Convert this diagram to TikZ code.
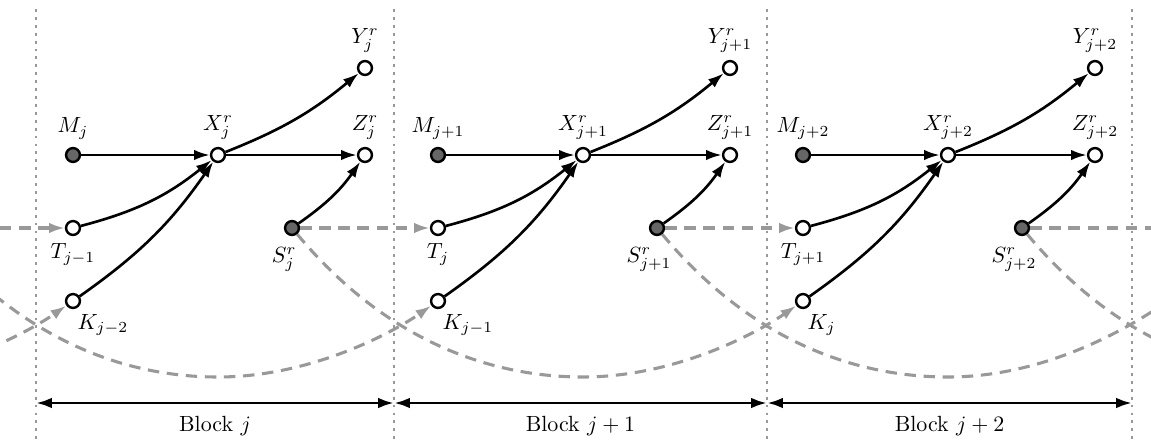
\documentclass[tikz,border=0pt]{standalone}
\usetikzlibrary{arrows.meta}
\begin{document}
\begin{tikzpicture}[x=0.455pt,y=-0.455pt,
  vtx/.style={circle, draw=black, line width=1.1pt, minimum size=6.3pt, inner sep=0pt},
  hid/.style={vtx, fill=white},
  obs/.style={vtx, fill=black!60},
  edge/.style={-{Latex[length=7.2pt,width=4.8pt]}, line width=1.2pt},
  fb/.style={-{Latex[length=7.2pt,width=4.8pt]}, line width=1.4pt, draw=black!40, dash pattern=on 5.2pt off 3.5pt},
  sep/.style={draw=black!40, line width=1.3pt, dash pattern=on 1.3pt off 2.3pt},
  span/.style={{Latex[length=7.2pt,width=4.8pt]}-{Latex[length=7.2pt,width=4.8pt]}, line width=1.3pt},
  klbl/.style={xshift=-4pt},
  slbl/.style={xshift=-3.6pt, yshift=-1.6pt},
]
\useasboundingbox (0,0) rectangle (1151,439);

% block separators
\foreach \x in {36,394,767,1132}{
  \draw[sep] (\x,9) -- (\x,439);
}

% nodes
\foreach \b/\c/\t/\k in {0/j/j-1/j-2, 1/j+1/j/j-1, 2/j+2/j+1/j}{
  \pgfmathsetmacro\o{365*\b}
  \node[obs, label=above:{$M_{\c}$}] (M\b) at (73+\o,155) {};
  \node[hid, label=above:{$X^r_{\c}$}] (X\b) at (218+\o,155) {};
  \node[hid, label=above:{$Y^r_{\c}$}] (Y\b) at (365+\o,68) {};
  \node[hid, label=above:{$Z^r_{\c}$}] (Z\b) at (365+\o,155) {};
  \node[hid, label=below:{$T_{\t}$}] (T\b) at (73+\o,228) {};
  \node[hid, label={[klbl]below right:{$K_{\k}$}}] (K\b) at (73+\o,301) {};
  \node[obs, label={[slbl]below:{$S^r_{\c}$}}] (S\b) at (292+\o,228) {};
}

% edges within blocks
\foreach \b in {0,1,2}{
  \draw[edge] (M\b) -- (X\b);
  \draw[edge] (X\b) -- (Z\b);
  \draw[edge] (X\b) to[bend right=9] (Y\b);
  \draw[edge] (T\b) to[bend right=12] (X\b);
  \draw[edge] (K\b) to[bend right=10] (X\b);
  \draw[edge] (S\b) to[bend right=10] (Z\b);
}

% feedback (dashed) connectors
\coordinate (Lin) at (0,228);
\coordinate (Rout) at (1151,228);
\draw[fb] (Lin) -- (T0);
\draw[fb] (S0) -- (T1);
\draw[fb] (S1) -- (T2);
\draw[fb, -] (S2) -- (Rout);

\begin{scope}
  \clip (0,0) rectangle (1151,439);
  \coordinate (Sm2) at (-438,228);
  \coordinate (Sm1) at (-73,228);
  \coordinate (K3) at (1168,301);
  \coordinate (K4) at (1533,301);
  \coordinate (Bm2) at (-147,377);
  \coordinate (Bm1) at (218,377);
  \coordinate (B0) at (583,377);
  \coordinate (B1) at (948,377);
  \coordinate (B2) at (1313,377);
  \draw[fb] (Sm2) .. controls +(96,115) and +(-90,0) .. (Bm2) .. controls +(90,0) and +(-49,34) .. (K0);
  \draw[fb] (Sm1) .. controls +(96,115) and +(-90,0) .. (Bm1) .. controls +(90,0) and +(-49,34) .. (K1);
  \draw[fb] (S0) .. controls +(96,115) and +(-90,0) .. (B0) .. controls +(90,0) and +(-49,34) .. (K2);
  \draw[fb, -] (S1) .. controls +(96,115) and +(-90,0) .. (B1) .. controls +(90,0) and +(-49,34) .. (K3);
  \draw[fb, -] (S2) .. controls +(96,115) and +(-90,0) .. (B2) .. controls +(90,0) and +(-49,34) .. (K4);
\end{scope}

% block spans
\coordinate (D0) at (36,403);
\coordinate (D1) at (394,403);
\coordinate (D2) at (767,403);
\coordinate (D3) at (1132,403);
\draw[span] (D0) -- node[below=2pt] {Block $j$} (D1);
\draw[span] (D1) -- node[below=2pt] {Block $j+1$} (D2);
\draw[span] (D2) -- node[below=2pt] {Block $j+2$} (D3);
\end{tikzpicture}
\end{document}
